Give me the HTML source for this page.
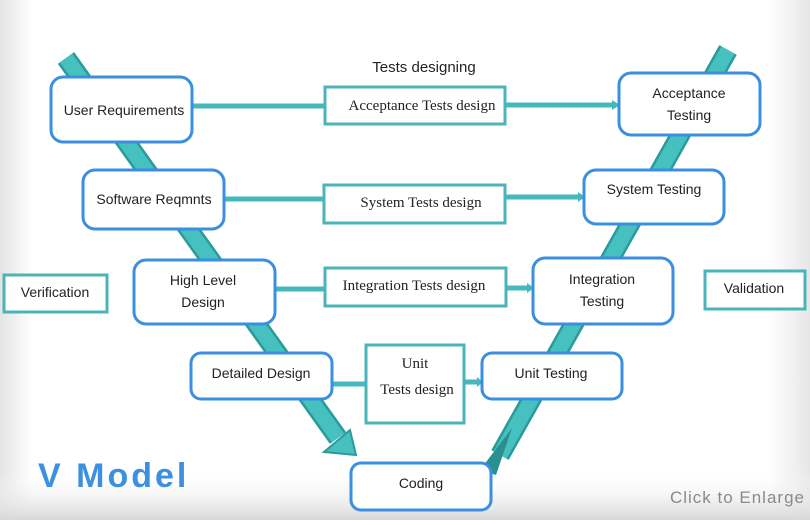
<!DOCTYPE html>
<html><head><meta charset="utf-8"><style>
body{margin:0;width:810px;height:520px;overflow:hidden;font-family:"Liberation Sans",sans-serif;}
</style></head><body>
<svg width="810" height="520" xmlns="http://www.w3.org/2000/svg" font-family="Liberation Sans, sans-serif">
<defs>
<linearGradient id="lg" x1="0" x2="1" y1="0" y2="0">
<stop offset="0" stop-color="#e4e4e4"/><stop offset="0.04" stop-color="#fff"/><stop offset="0.95" stop-color="#fff"/><stop offset="1" stop-color="#e6e6e6"/>
</linearGradient>
<linearGradient id="bg2" x1="0" x2="0" y1="0" y2="1">
<stop offset="0" stop-color="#fff" stop-opacity="0"/><stop offset="1" stop-color="#d8d8d8"/>
</linearGradient>
</defs>
<rect width="810" height="520" fill="url(#lg)"/>
<rect y="470" width="810" height="50" fill="url(#bg2)"/>
<!-- left band -->
<line x1="66" y1="58" x2="338" y2="438" stroke="#2a9a9a" stroke-width="20"/>
<line x1="66" y1="58" x2="338" y2="438" stroke="#47c0c0" stroke-width="15"/>
<polygon points="324,452 356,455 350,430" fill="#47c0c0" stroke="#2a9a9a" stroke-width="2"/>
<!-- right band -->
<line x1="500" y1="455" x2="728" y2="50" stroke="#2a9a9a" stroke-width="20"/>
<line x1="500" y1="455" x2="728" y2="50" stroke="#47c0c0" stroke-width="15"/>
<polygon points="480,470 496,475 512,428" fill="#2a8f8f"/>
<line x1="478" y1="484" x2="492" y2="462" stroke="#2a8f8f" stroke-width="4"/>
<!-- connectors -->
<g stroke="#45b8bc" stroke-width="5">
<line x1="192" y1="106" x2="325" y2="106"/><line x1="505" y1="105" x2="612" y2="105"/>
<line x1="224" y1="199" x2="324" y2="199"/><line x1="505" y1="197" x2="578" y2="197"/>
<line x1="275" y1="289" x2="325" y2="289"/><line x1="506" y1="288" x2="527" y2="288"/>
<line x1="332" y1="384" x2="366" y2="384"/><line x1="464" y1="382" x2="477" y2="382"/>
</g>
<g fill="#45b8bc">
<polygon points="612,100 620,105 612,110"/><polygon points="578,192 585,197 578,202"/>
<polygon points="527,283 534,288 527,293"/><polygon points="477,377 483,382 477,387"/>
</g>
<!-- teal boxes -->
<g fill="#fff" stroke="#4bb4b8" stroke-width="3">
<rect x="325" y="87" width="180" height="37"/>
<rect x="324" y="185" width="181" height="38"/>
<rect x="325" y="268" width="181" height="38"/>
<rect x="366" y="345" width="98" height="78"/>
<rect x="4" y="275" width="103" height="37"/>
<rect x="705" y="271" width="100" height="38"/>
</g>
<!-- rounded boxes -->
<g fill="#fff" stroke="#3a8fe0" stroke-width="3">
<rect x="51" y="77" width="141" height="65" rx="12"/>
<rect x="83" y="170" width="141" height="59" rx="12"/>
<rect x="134" y="260" width="141" height="64" rx="12"/>
<rect x="191" y="353" width="141" height="46" rx="10"/>
<rect x="351" y="463" width="140" height="47" rx="10"/>
<rect x="482" y="353" width="140" height="46" rx="10"/>
<rect x="533" y="258" width="140" height="66" rx="12"/>
<rect x="584" y="170" width="140" height="54" rx="12"/>
<rect x="619" y="73" width="141" height="62" rx="12"/>
</g>
<g font-size="14" fill="#222" text-anchor="middle">
<text x="424" y="72" font-size="15">Tests designing</text>
<text x="124" y="115">User Requirements</text>
<text x="154" y="204">Software Reqmnts</text>
<text x="203" y="285">High Level</text><text x="203" y="307">Design</text>
<text x="261" y="378">Detailed Design</text>
<text x="421" y="488">Coding</text>
<text x="551" y="378">Unit Testing</text>
<text x="602" y="284">Integration</text><text x="602" y="306">Testing</text>
<text x="654" y="194">System  Testing</text>
<text x="689" y="98">Acceptance</text><text x="689" y="120">Testing</text>
<text x="55" y="297">Verification</text>
<text x="754" y="293">Validation</text>
</g>
<g font-family="Liberation Serif, serif" font-size="15" fill="#222" text-anchor="middle">
<text x="422" y="110">Acceptance Tests design</text>
<text x="421" y="207">System Tests design</text>
<text x="414" y="290">Integration Tests design</text>
<text x="415" y="368">Unit</text>
<text x="417" y="394">Tests design</text>
</g>
<text x="38" y="487" font-size="34" font-weight="bold" fill="#3d8fe0" letter-spacing="3">V Model</text>
<text x="805" y="503" font-size="17" fill="#8a8a8a" text-anchor="end" letter-spacing="1">Click to Enlarge</text>
</svg>
</body></html>
